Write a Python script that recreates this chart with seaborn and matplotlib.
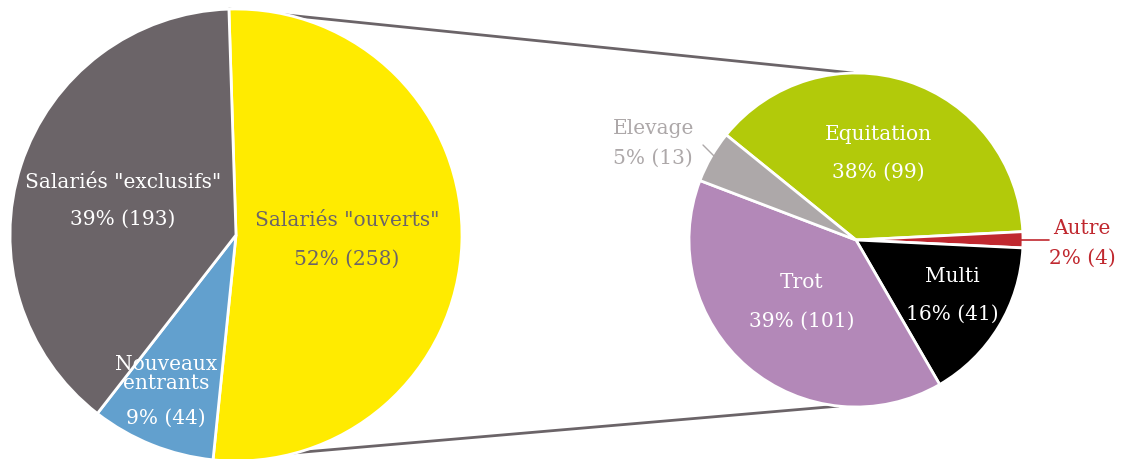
import numpy as np
import matplotlib.pyplot as plt
import seaborn as sns

# data
left_labels = ['Salariés "ouverts"', 'Nouveaux\nentrants', 'Salariés "exclusifs"']
left_values = [258, 44, 193]
left_colors = ['#FFEB00', '#62A0CE', '#6B6468']
left_text_colors = ['#6B6468', 'white', 'white']

right_labels = ['Equitation', 'Autre', 'Multi', 'Trot', 'Elevage']
right_values = [99, 4, 41, 101, 13]
right_colors = ['#B2CA0A', '#C0282F', '#000000', '#B388B8', '#ADA8A9']
right_text_colors = ['white', '#C0282F', 'white', 'white', '#ADA8A9']

W, H = 1121, 460

sns.set_theme(style='white')
plt.rcParams['font.family'] = ['DejaVu Serif']

fig = plt.figure(figsize=(W / 100, H / 100), dpi=100)
ax = fig.add_axes([0, 0, 1, 1])


def px(x, y):
    # pixel coords (from top-left) to data coords
    return x, H - y


left_c, left_r = px(236, 236), 226
right_c, right_r = px(856, 241), 167

wl, _ = ax.pie(left_values, colors=left_colors, startangle=91.8, counterclock=False,
               center=left_c, radius=left_r, frame=True,
               wedgeprops=dict(edgecolor='white', linewidth=2))
wr, _ = ax.pie(right_values, colors=right_colors, startangle=141, counterclock=False,
               center=right_c, radius=right_r, frame=True,
               wedgeprops=dict(edgecolor='white', linewidth=2))
ax.set_xlim(0, W)
ax.set_ylim(0, H)
ax.set_aspect('equal')
ax.axis('off')

# connector lines from the big yellow slice to the small pie
yl = wl[0]
for ang_l, ang_r in [(yl.theta2, 91), (yl.theta1, -96)]:
    x0 = left_c[0] + left_r * np.cos(np.radians(ang_l))
    y0 = left_c[1] + left_r * np.sin(np.radians(ang_l))
    x1 = right_c[0] + right_r * np.cos(np.radians(ang_r))
    y1 = right_c[1] + right_r * np.sin(np.radians(ang_r))
    ax.plot([x0, x1], [y0, y1], color='#6B6468', lw=2, zorder=0)

tot_l = sum(left_values)
tot_r = sum(right_values)
fs = 14.5

# label positions (pixels): x, name y, value y
left_pos = [(347, 221, 259), (166, 374, 418), (123, 183, 219)]
for lab, v, col, (x, yn, yv) in zip(left_labels, left_values, left_text_colors, left_pos):
    ax.text(*px(x, yn), lab, ha='center', va='center', color=col, fontsize=fs, linespacing=0.95)
    ax.text(*px(x, yv), f'{v / tot_l:.0%} ({v})', ha='center', va='center', color=col, fontsize=fs)

right_pos = [(878, 135, 172, 'center'), (1082, 229, 258, 'center'), (952, 276, 314, 'center'),
             (802, 283, 321, 'center'), (613, 128, 158, 'left')]
for lab, v, col, (x, yn, yv, ha) in zip(right_labels, right_values, right_text_colors, right_pos):
    ax.text(*px(x, yn), lab, ha=ha, va='center', color=col, fontsize=fs)
    ax.text(*px(x, yv), f'{v / tot_r:.0%} ({v})', ha=ha, va='center', color=col, fontsize=fs)

# leader lines for the small outside labels
ax.plot(*zip(px(703, 146), px(720, 163)), color='#ADA8A9', lw=1)
ax.plot(*zip(px(1020, 241), px(1049, 241)), color='#C0282F', lw=1.2)

fig.savefig('out.png', dpi=100)
